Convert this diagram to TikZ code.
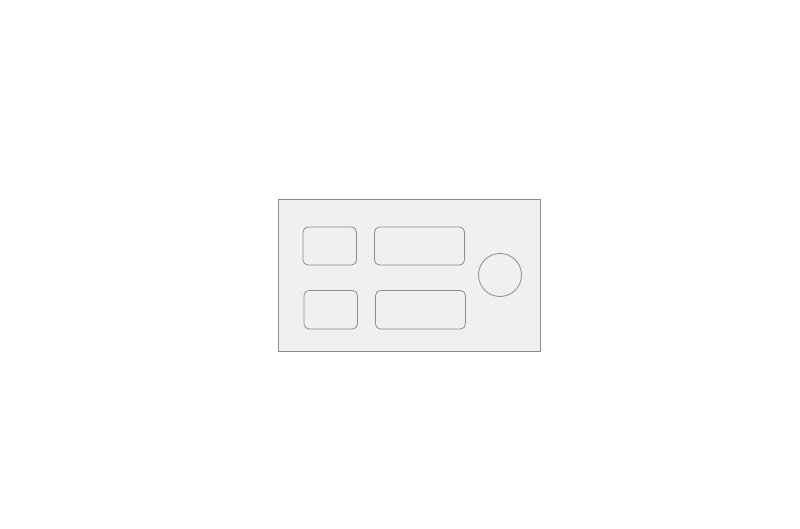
\documentclass[tikz,border=0pt]{standalone}
\begin{document}
\begin{tikzpicture}[x=1pt,y=-1pt,
  panel/.style={draw=black!45,fill=black!6,line width=0.8pt},
  keybox/.style={draw=black!45,fill=black!6,line width=0.8pt,rounded corners=5pt},
  knob/.style={draw=black!45,fill=black!6,line width=0.8pt}]
\useasboundingbox (0,0) rectangle (800,529);
\fill[white] (0,0) rectangle (800,529);
\draw[panel] (278,199.5) rectangle (540.5,351.5);
\draw[keybox] (303,227) rectangle (356.5,265);
\draw[keybox] (374.5,227) rectangle (464.5,265);
\draw[keybox] (304,290.5) rectangle (357.5,329);
\draw[keybox] (375.5,290.5) rectangle (465.5,329);
\node[knob,circle,minimum size=43pt,inner sep=0pt] (k) at (500,275) {};
\end{tikzpicture}
\end{document}
